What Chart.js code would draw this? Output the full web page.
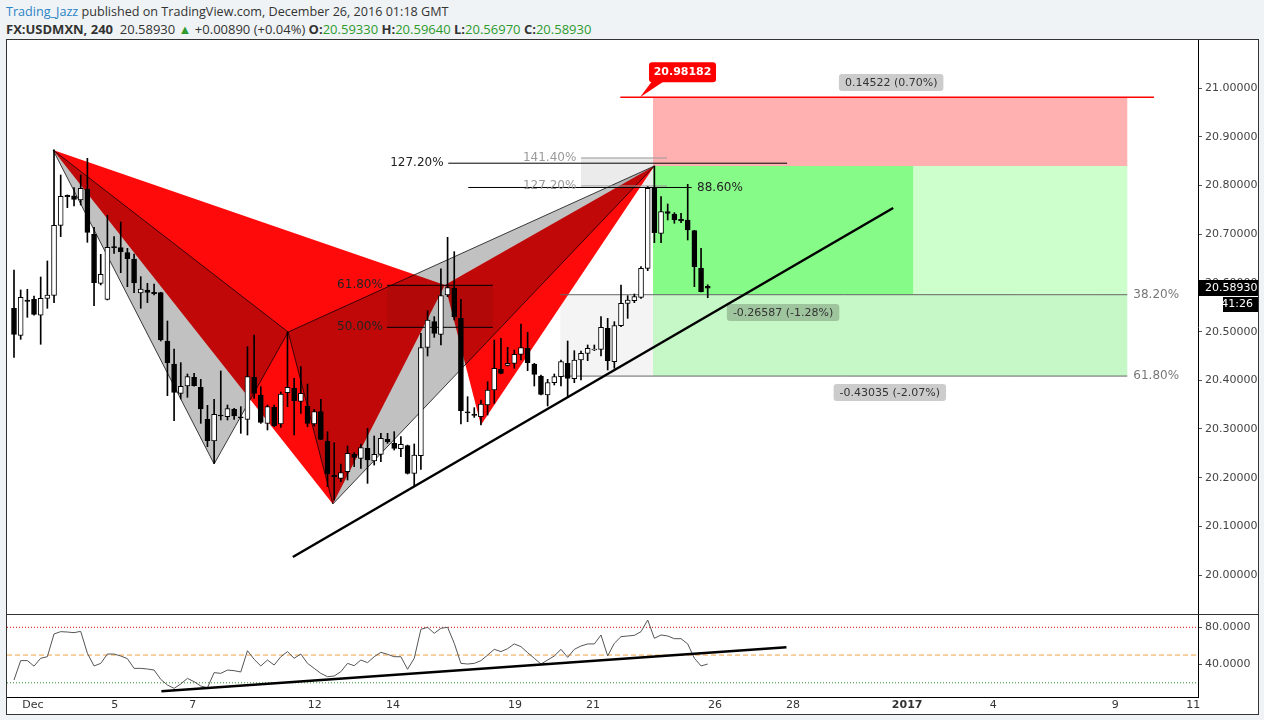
<!DOCTYPE html>
<html>
<head>
<meta charset="utf-8">
<script src="https://cdn.jsdelivr.net/npm/chart.js@4.4.1/dist/chart.umd.min.js"></script>
<style>
  html, body { margin: 0; padding: 0; background: #f0f3f6; width: 1264px; height: 720px; overflow: hidden; }
  .hdr { position: absolute; left: 6px; font-family: "Open Sans", sans-serif; color: #333; white-space: nowrap; }
  #h1 { top: 3px; font-size: 12.6px; }
  #h2 { top: 20px; font-size: 13px; }
  .user { color: #2a84c6; }
  .g { color: #2d9b2d; }
  #frame { position: absolute; left: 6px; top: 39px; width: 1251px; height: 674px; border: 1px solid #333; background: #fff; }
  #frame canvas { position: absolute; left: 0; }
  #sep { position: absolute; left: 0; top: 574px; width: 1251px; height: 1px; background: #333; z-index: 2; }
</style>
</head>
<body>
<div class="hdr" id="h1"><span class="user">Trading_Jazz</span> published on TradingView.com, December 26, 2016 01:18 GMT</div>
<div class="hdr" id="h2"><b>FX:USDMXN, 240</b>&nbsp; 20.58930 <span class="g">&#9650;</span> +0.00890 (+0.04%) <b>O:</b><span class="g">20.59330</span> <b>H:</b><span class="g">20.59640</span> <b>L:</b><span class="g">20.56970</span> <b>C:</b><span class="g">20.58930</span></div>
<div id="frame">
  <canvas id="main" width="1251" height="574" style="top:0"></canvas>
  <div id="sep"></div>
  <canvas id="rsi" width="1251" height="99" style="top:574px"></canvas>
</div>
<script>
// USDMXN 4h candles, one per bar index (0 = first visible bar)
const opens = [20.5479,20.4925,20.5651,20.5664,20.5336,20.5685,20.5746,20.7185,20.7801,20.7788,
  20.7705,20.7924,20.7000,20.5993,20.5664,20.6733,20.6726,20.6623,20.6493,20.5794,
  20.5856,20.5808,20.5801,20.4808,20.4336,20.3733,20.3884,20.4062,20.3856,20.3198,
  20.2753,20.3281,20.3253,20.3404,20.3240,20.3198,20.4061,20.3698,20.3116,20.3445,
  20.3102,20.3746,20.3835,20.3568,20.3472,20.3102,20.3356,20.2753,20.2048,20.1986,
  20.2123,20.2486,20.2397,20.2603,20.2342,20.2479,20.2787,20.2705,20.2596,20.2657,
  20.2089,20.2452,20.4678,20.5205,20.4945,20.5753,20.5890,20.5274,20.3335,20.3287,
  20.3253,20.3493,20.3801,20.4226,20.4308,20.4349,20.4534,20.4657,20.4335,20.4089,
  20.3698,20.3952,20.4075,20.4349,20.4034,20.4417,20.4554,20.4623,20.4636,20.5068,
  20.4383,20.5123,20.5582,20.5636,20.5705,20.6301,20.7944,20.7020,20.7465,20.7417,
  20.7308,20.7294,20.7075,20.6301,20.5933];
const highs = [20.6267,20.5856,20.5870,20.5733,20.6123,20.6452,20.8733,20.8219,20.7810,20.7959,
  20.8219,20.8561,20.7144,20.6589,20.7390,20.6952,20.7253,20.6712,20.6596,20.6130,
  20.5993,20.5979,20.5810,20.5219,20.4644,20.4363,20.4130,20.4144,20.4021,20.3486,
  20.3609,20.4192,20.3493,20.3425,20.3459,20.4691,20.4931,20.3869,20.3493,20.3493,
  20.3760,20.4992,20.4041,20.4280,20.3924,20.3403,20.3609,20.2944,20.2719,20.2280,
  20.2650,20.2513,20.2692,20.3014,20.2856,20.2911,20.2911,20.2945,20.2842,20.2671,
  20.2692,20.4965,20.5431,20.5308,20.6293,20.6938,20.6643,20.5664,20.3664,20.3438,
  20.3595,20.3972,20.4828,20.4862,20.4678,20.4623,20.5157,20.4986,20.4349,20.4109,
  20.4020,20.4130,20.4417,20.4808,20.4609,20.4602,20.4726,20.4726,20.5308,20.5273,
  20.5205,20.5958,20.5739,20.5773,20.6335,20.7979,20.8403,20.7773,20.7623,20.7445,
  20.7431,20.8027,20.7080,20.6712,20.5964];
const lows = [20.4473,20.4842,20.5294,20.5340,20.4740,20.5479,20.5596,20.6952,20.7548,20.7582,
  20.7603,20.6835,20.5534,20.5959,20.5650,20.6609,20.6212,20.5924,20.5801,20.5479,
  20.5596,20.5753,20.4808,20.3685,20.3171,20.3616,20.3651,20.3880,20.3116,20.2637,
  20.2294,20.3185,20.3185,20.3199,20.2911,20.2876,20.3630,20.3116,20.2979,20.3047,
  20.3034,20.3458,20.2876,20.3321,20.3047,20.3061,20.2780,20.1815,20.1541,20.1917,
  20.1952,20.2226,20.2192,20.1883,20.2260,20.2329,20.2705,20.2568,20.2431,20.2075,
  20.1815,20.2171,20.4500,20.4883,20.4726,20.5719,20.5239,20.3102,20.3150,20.3239,
  20.3082,20.3287,20.3527,20.4130,20.4294,20.4246,20.4417,20.4198,20.3883,20.3698,
  20.3472,20.3904,20.3883,20.3664,20.3952,20.4006,20.4404,20.4610,20.4500,20.4212,
  20.4246,20.5102,20.5273,20.5595,20.5684,20.6253,20.6828,20.6828,20.7294,20.7226,
  20.7239,20.6883,20.5924,20.5815,20.5697];
const closes = [20.4945,20.5705,20.5623,20.5356,20.5685,20.5753,20.7185,20.7781,20.7774,20.7719,
  20.7945,20.7041,20.6007,20.6178,20.6733,20.6726,20.6644,20.6500,20.6003,20.5876,
  20.5808,20.5780,20.4829,20.4363,20.3753,20.3877,20.4075,20.3890,20.3411,20.2760,
  20.3301,20.3267,20.3418,20.3267,20.3230,20.4075,20.3732,20.3136,20.3458,20.3061,
  20.3719,20.3856,20.3582,20.3732,20.3116,20.3356,20.2787,20.2075,20.2020,20.2102,
  20.2499,20.2417,20.2616,20.2363,20.2479,20.2808,20.2740,20.2603,20.2685,20.2089,
  20.2466,20.4671,20.5239,20.4965,20.5739,20.5904,20.5308,20.3376,20.3330,20.3280,
  20.3513,20.3801,20.4246,20.4143,20.4349,20.4534,20.4671,20.4363,20.4123,20.3712,
  20.3952,20.4075,20.4383,20.4041,20.4417,20.4554,20.4657,20.4630,20.5088,20.4404,
  20.5123,20.5582,20.5650,20.5719,20.6301,20.7944,20.7033,20.7465,20.7431,20.7294,
  20.7273,20.7088,20.6335,20.5821,20.5893];
const rsi = [23,44,44,38,46.5,48.2,72.8,75.3,74.9,74.2,
  75.6,51.9,38.2,41,51.1,51.1,49,46.1,35.6,35.6,
  34.9,33.8,23.7,17.6,14,18.7,24.8,21.2,16.5,14.7,
  31,30.2,33.8,33.1,31.7,54.7,45.4,38.2,44.6,39.2,
  48.2,53.7,46.5,51.1,41,35.6,30.2,26.6,27.3,32,
  41,38.5,44.6,41.8,48.2,52.9,50.8,48.2,48.2,34.6,
  46.5,77.8,80,73.5,78.9,80,62.7,41,40.3,41,
  43.9,50,56.2,53.7,56.9,62,59.1,52.6,46.5,40.3,
  44.6,49,56.2,47.5,56.2,59.8,62,62,71.7,49,
  62.7,69.9,70.6,71.3,75.3,87.9,68.1,71.7,70.6,67.7,
  67.7,62,46.5,38.2,40.3];

// date axis (bar-index positions of the day labels)
const tickLabels = ['Dec','5','7','12','14','19','21','26','28','2017','4','9','11'];
const tickPos = [2.85,15.1,26.8,45.1,56.8,75.1,86.8,105.1,116.8,133.9,146.8,165.1,176.8];
const priceTicks = [20.0,20.1,20.2,20.3,20.4,20.5,20.6,20.7,20.8,20.9,21.0];
const rsiTicks = [80,40];
const rsiLevels = [80,50,20];

// drawings: [barIndex, price]
const grayPattern = [[5.85,20.8733],[30.0,20.2281],[41.1,20.4992],[47.8,20.1459],[96.0,20.8403]];
const redPattern  = [[5.85,20.8733],[47.8,20.1459],[64.6,20.5959],[70.0,20.3082],[96.0,20.8403]];
const trendMain = [[41.8,20.0370],[131.8,20.7541]];
const trendRsi = [[22.1,10.8],[115.8,58.4]];
const stopPrice = 20.98182;
const entryPrice = 20.8403;
const targetPrice = 20.5759;
const target2Price = 20.4087;

const X_MIN = -1.05, X_MAX = 177.5;
Chart.defaults.font.family = '"DejaVu Sans", sans-serif';

const pts = arr => arr.map(p => ({x: p[0], y: p[1]}));
const box = (x0, x1, y0, y1) => [[x0,y0],[x1,y0],[x1,y1],[x0,y1],[x0,y0]];
function shape(points, fillC, lineC, lw, order) {
  return {type: 'line', data: pts(points), fill: 'shape', backgroundColor: fillC,
    borderColor: lineC, borderWidth: lw, pointRadius: 0, tension: 0, order};
}
function seg(points, color, lw, order, dash) {
  return {type: 'line', data: pts(points), fill: false, borderColor: color, borderWidth: lw,
    pointRadius: 0, tension: 0, borderDash: dash || [], order};
}
const tri = (p, a, b, c) => [p[a], p[b], p[c], p[a]];
const clear = 'rgba(0,0,0,0)';
// no label overhang padding, so the plot fills the pane
const noPad = s => { s.paddingTop = 0; s.paddingBottom = 0; s.paddingLeft = 0; s.paddingRight = 0; };

const levelLabels = [
  {text: '61.80%', x: 55.3, y: 20.5952, align: 'right', color: '#222'},
  {text: '50.00%', x: 55.3, y: 20.5089, align: 'right', color: '#222'},
  {text: '127.20%', x: 64.4, y: 20.8461, align: 'right', color: '#222'},
  {text: '141.40%', x: 84.3, y: 20.8568, align: 'right', color: '#9a9a9a'},
  {text: '127.20%', x: 84.3, y: 20.7993, align: 'right', color: '#9a9a9a'},
  {text: '88.60%', x: 102.4, y: 20.7962, align: 'left', color: '#222'},
  {text: '38.20%', x: 167.8, y: targetPrice, align: 'left', color: '#777'},
  {text: '61.80%', x: 167.8, y: target2Price, align: 'left', color: '#777'}
];
const moveLabels = [
  {text: '0.14522 (0.70%)', x: 131.5, y: 21.0119},
  {text: '-0.26587 (-1.28%)', x: 115.3, y: 20.5393},
  {text: '-0.43035 (-2.07%)', x: 131.3, y: 20.3750}
];

const drawings = {
  id: 'drawings',
  afterDatasetsDraw(chart) {
    const {ctx} = chart, xs = chart.scales.x, ys = chart.scales.y;
    ctx.save();
    ctx.textBaseline = 'middle';
    ctx.font = '12px "DejaVu Sans"';
    levelLabels.forEach(l => {
      ctx.fillStyle = l.color; ctx.textAlign = l.align;
      ctx.fillText(l.text, xs.getPixelForValue(l.x), ys.getPixelForValue(l.y));
    });
    ctx.font = '11px "DejaVu Sans"';
    ctx.textAlign = 'center';
    moveLabels.forEach(l => {
      const px = xs.getPixelForValue(l.x), py = ys.getPixelForValue(l.y);
      const w = ctx.measureText(l.text).width + 12;
      ctx.fillStyle = 'rgba(0,0,0,0.2)';
      ctx.beginPath(); ctx.roundRect(px - w / 2, py - 8.5, w, 17, 3); ctx.fill();
      ctx.fillStyle = '#333';
      ctx.fillText(l.text, px, py + 0.5);
    });
    // stop flag
    const tx = xs.getPixelForValue(93.85), ty = ys.getPixelForValue(stopPrice);
    ctx.fillStyle = '#ff0000';
    ctx.beginPath(); ctx.roundRect(tx + 9, ty - 35, 67, 20, 3); ctx.fill();
    ctx.beginPath(); ctx.moveTo(tx + 12, ty - 16); ctx.lineTo(tx + 24, ty - 16); ctx.lineTo(tx, ty); ctx.closePath(); ctx.fill();
    ctx.fillStyle = '#fff';
    ctx.font = 'bold 11px "DejaVu Sans"';
    ctx.fillText(stopPrice.toFixed(5), tx + 42.5, ty - 25);
    ctx.restore();
  },
  afterDraw(chart) {
    const {ctx} = chart, ys = chart.scales.y;
    const last = closes[closes.length - 1];
    const py = Math.round(ys.getPixelForValue(last));
    ctx.save();
    ctx.fillStyle = '#000';
    ctx.fillRect(ys.left, py - 8, ys.width, 16);
    ctx.fillRect(ys.left + 25, py + 9, ys.width - 25, 15);
    ctx.fillStyle = '#fff';
    ctx.font = '11px "DejaVu Sans"';
    ctx.textBaseline = 'middle';
    ctx.textAlign = 'left';
    ctx.fillText(last.toFixed(5), ys.left + 7, py);
    ctx.textAlign = 'right';
    ctx.fillText('41:26', ys.right - 5, py + 16.5);
    ctx.restore();
  }
};

const wickData = opens.map((o, i) => ({x: i, y: [lows[i], highs[i]]}));
const bodyData = opens.map((o, i) => ({x: i, y: [o, closes[i]]}));
const bodyColors = opens.map((o, i) => closes[i] >= o ? '#ffffff' : '#000000');

new Chart(document.getElementById('main'), {
  type: 'bar',
  data: {
    datasets: [
      {type: 'bar', data: bodyData, backgroundColor: bodyColors, borderColor: '#000', borderWidth: 1,
        borderSkipped: false, barThickness: 5, minBarLength: 1, stack: 'c', order: 1},
      {type: 'bar', data: wickData, backgroundColor: '#000', borderWidth: 0,
        barThickness: 1, stack: 'c', order: 2},
      seg(trendMain, '#000', 2.5, 3),
      // position tool and fib levels
      shape(box(95.8, 166.9, entryPrice, stopPrice), '#ffb1b1', clear, 0, 100),
      shape(box(95.8, 134.8, targetPrice, entryPrice), '#87fb87', clear, 0, 100),
      shape(box(134.8, 166.9, targetPrice, entryPrice), '#ccffcc', clear, 0, 100),
      shape(box(95.8, 166.9, target2Price, targetPrice), '#c6f7c6', clear, 0, 100),
      shape(box(81.9, 95.8, target2Price, targetPrice), '#f4f4f4', clear, 0, 100),
      shape(box(85.0, 97.9, 20.7993, 20.8568), '#ebebeb', clear, 0, 100),
      // harmonic patterns
      shape(tri(redPattern, 0, 1, 2), 'rgba(255,0,0,0.96)', clear, 0, 90),
      shape(tri(redPattern, 2, 3, 4), 'rgba(255,0,0,0.96)', clear, 0, 90),
      shape(tri(grayPattern, 0, 1, 2), 'rgba(0,0,0,0.245)', 'rgba(0,0,0,0.75)', 1, 85),
      shape(tri(grayPattern, 2, 3, 4), 'rgba(0,0,0,0.245)', 'rgba(0,0,0,0.75)', 1, 85),
      shape(box(55.9, 71.8, 20.5089, 20.5952), 'rgba(0,0,0,0.07)', clear, 0, 84),
      seg([[55.9, 20.5952], [71.8, 20.5952]], '#000', 1, 80),
      seg([[55.9, 20.5089], [71.8, 20.5089]], '#000', 1, 80),
      seg([[65.1, 20.8461], [115.9, 20.8461]], '#000', 1, 80),
      seg([[85.0, 20.8568], [97.9, 20.8568]], '#999', 1, 80),
      seg([[85.0, 20.7993], [97.9, 20.7993]], '#999', 1, 80),
      seg([[68.1, 20.7962], [101.6, 20.7962]], '#000', 1, 80),
      seg([[81.9, targetPrice], [166.9, targetPrice]], '#666', 1, 80),
      seg([[81.9, target2Price], [166.9, target2Price]], '#666', 1, 80),
      seg([[90.9, stopPrice], [170.9, stopPrice]], '#ff0000', 1.5, 80)
    ]
  },
  options: {
    responsive: false, animation: false, events: [],
    layout: {padding: 0, autoPadding: false},
    plugins: {legend: {display: false}, tooltip: {enabled: false}},
    scales: {
      x: {type: 'linear', min: X_MIN, max: X_MAX, display: false, offset: false, bounds: 'data'},
      y: {type: 'linear', position: 'right', min: 19.9199, max: 21.0992, stacked: false, bounds: 'data',
        afterBuildTicks: s => { s.ticks = priceTicks.map(v => ({value: v})); },
        afterFit: s => { s.width = 60; noPad(s); },
        grid: {drawOnChartArea: false, drawTicks: true, tickLength: 4, color: '#555'},
        border: {display: true, color: '#000'},
        ticks: {padding: 3, color: '#444', font: {size: 11}, callback: v => v.toFixed(5)}}
    }
  },
  plugins: [drawings]
});

const rsiColors = ['#e00000', '#f0a040', '#2a8a2a'];
const rsiDash = [[1, 2], [5, 3], [1, 2]];
new Chart(document.getElementById('rsi'), {
  type: 'line',
  data: {
    datasets: [
      seg(rsi.map((v, i) => [i, v]), '#555', 1, 5),
      seg(trendRsi, '#000', 2.5, 1),
      ...rsiLevels.map((lv, k) => seg([[X_MIN, lv], [X_MAX, lv]], rsiColors[k], 1, 10, rsiDash[k]))
    ]
  },
  options: {
    responsive: false, animation: false, events: [],
    layout: {padding: {top: 1}, autoPadding: false},
    plugins: {legend: {display: false}, tooltip: {enabled: false}},
    scales: {
      x: {type: 'linear', min: X_MIN, max: X_MAX, offset: false, bounds: 'data',
        afterBuildTicks: s => { s.ticks = tickPos.map(v => ({value: v})); },
        afterFit: s => { s.height = 16; noPad(s); },
        grid: {display: false, drawTicks: false},
        border: {display: true, color: '#000'},
        ticks: {autoSkip: false, maxRotation: 0, padding: 2, color: '#333',
          font: c => ({size: 11, weight: c.index === 9 ? 'bold' : 'normal'}),
          callback: (v, i) => tickLabels[i]}},
      y: {type: 'linear', position: 'right', min: 4.65, max: 93.3, bounds: 'data',
        afterBuildTicks: s => { s.ticks = rsiTicks.map(v => ({value: v})); },
        afterFit: s => { s.width = 60; noPad(s); },
        grid: {drawOnChartArea: false, drawTicks: true, tickLength: 4, color: '#555'},
        border: {display: true, color: '#000'},
        ticks: {padding: 3, color: '#444', font: {size: 11}, callback: v => v.toFixed(4)}}
    }
  }
});
</script>
</body>
</html>
